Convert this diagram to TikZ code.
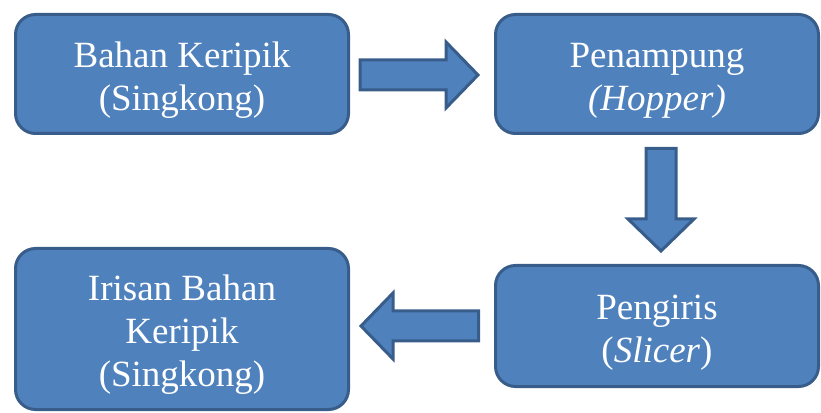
\documentclass[tikz,border=0pt]{standalone}
\usepackage{fontspec}
\setmainfont{Liberation Serif}
\usetikzlibrary{calc,positioning}
\definecolor{boxfill}{HTML}{4F81BD}
\definecolor{boxline}{HTML}{385D8A}
\newcommand{\topgap}{\rule{0pt}{37pt}}
\tikzstyle{process} = [rectangle, draw=boxline, fill=boxfill, line width=3pt, rounded corners=20pt, text=white, text centered, minimum width=333pt, minimum height=119pt, font=\fontsize{37}{43}\selectfont]
\tikzstyle{blockarrow} = [draw=boxline, fill=boxfill, line width=3pt, line join=miter,
    to path={($(\tikztostart)!15pt!90:(\tikztotarget)$)
        -- ($(\tikztotarget)!32pt!(\tikztostart)!15pt!90:(\tikztotarget)$)
        -- ($(\tikztotarget)!32pt!(\tikztostart)!33pt!90:(\tikztotarget)$)
        -- (\tikztotarget)
        -- ($(\tikztotarget)!32pt!(\tikztostart)!33pt!-90:(\tikztotarget)$)
        -- ($(\tikztotarget)!32pt!(\tikztostart)!15pt!-90:(\tikztotarget)$)
        -- ($(\tikztostart)!15pt!-90:(\tikztotarget)$) -- cycle}]

\begin{document}
\begin{tikzpicture}[x=1pt, y=1pt, every text node part/.style={align=center}]
        \useasboundingbox (0,0) rectangle (821,412);
        \node (bahan) [process] at (182,338) {\topgap Bahan Keripik \\ (Singkong)};
        \node (hopper) [process, right=144pt of bahan, minimum width=323pt] {\topgap Penampung \\ \textit{(Hopper)}};
        \node (pengiris) [process, below=129pt of hopper, minimum width=323pt, minimum height=121pt] {\topgap Pengiris \\ (\textit{Slicer})};
        \node (irisan) [process, left=144pt of pengiris, yshift=-3pt, minimum height=161pt] {\topgap Irisan Bahan \\ Keripik \\ (Singkong)};
        \draw [blockarrow] ($(bahan.east)+(10,-1)$) to ($(hopper.west)+(-16,-1)$);
        \draw [blockarrow] ($(hopper.south)+(4,-13.5)$) to ($(pengiris.north)+(4,13)$);
        \draw [blockarrow] ($(pengiris.west)+(-15.5,0)$) to ($(pengiris.west -| irisan.east)+(11,0)$);
    \end{tikzpicture}
\end{document}
